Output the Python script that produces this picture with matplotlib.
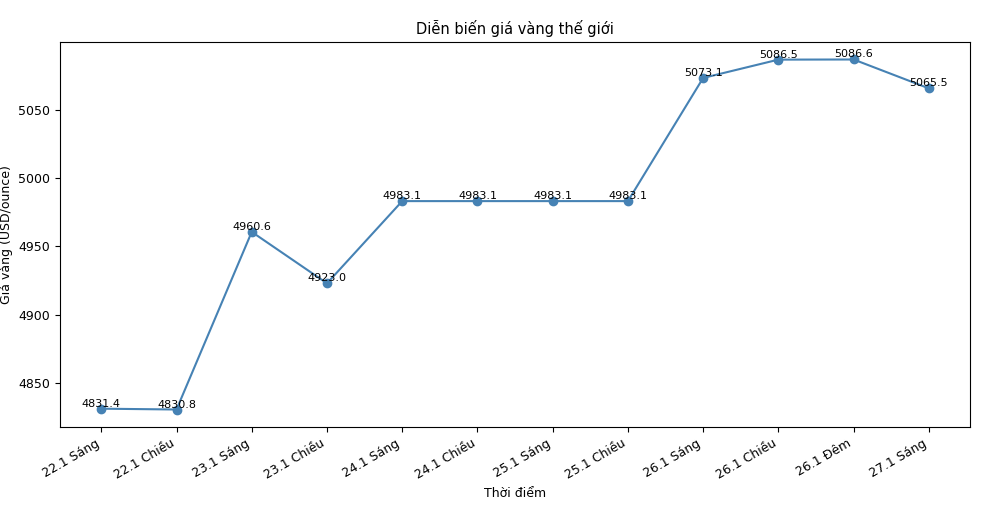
import matplotlib
matplotlib.use("Agg")
import matplotlib.pyplot as plt

plt.rcParams["font.size"] = 9

labels = ["22.1 Sáng", "22.1 Chiều", "23.1 Sáng", "23.1 Chiều", "24.1 Sáng", "24.1 Chiều",
          "25.1 Sáng", "25.1 Chiều", "26.1 Sáng", "26.1 Chiều", "26.1 Đêm", "27.1 Sáng"]
prices = [4831.4, 4830.8, 4960.6, 4923.0, 4983.1, 4983.1, 4983.1, 4983.1, 5073.1, 5086.5, 5086.6, 5065.5]

fig, ax = plt.subplots(figsize=(9.82, 5.12), dpi=100)
fig.subplots_adjust(left=0.061, right=0.988, top=0.918, bottom=0.166)
x = list(range(len(labels)))
ax.plot(x, prices, marker="o", color="#4682b4")
for xi, p in zip(x, prices):
    ax.text(xi, p, f"{p:.1f}", ha="center", va="bottom", fontsize=8)
ax.set_xticks(x)
ax.set_xticklabels(labels, rotation=30, ha="right")
ax.set_title("Diễn biến giá vàng thế giới", fontsize=10.5)
ax.set_xlabel("Thời điểm")
ax.set_ylabel("Giá vàng (USD/ounce)")
fig.savefig("out.png")
